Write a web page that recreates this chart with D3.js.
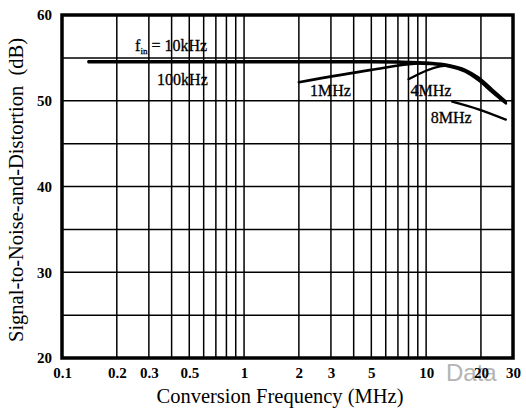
<!DOCTYPE html>
<html><head><meta charset="utf-8">
<script src="https://cdn.jsdelivr.net/npm/d3@7"></script>
<style>body{margin:0;background:#fff}svg{display:block}</style>
</head><body>
<svg id="c" width="526" height="408"></svg>
<script>
const xTickLabels = [0.1, 0.2, 0.3, 0.5, 1, 2, 3, 5, 10, 20, 30];
const xGridValues = [0.2,0.3,0.4,0.5,0.6,0.7,0.8,0.9,1,2,3,4,5,6,7,8,9,10,20];
const yTickLabels = [20, 30, 40, 50, 60];
const yGridValues = [25, 30, 35, 40, 45, 50, 55];

const fin10kHz  = [[0.14,54.6],[1,54.6],[5,54.6],[7,54.56],[10.4,54.42],[13,54.2],[16.4,53.6],[19.4,52.7],[23.1,51.3],[27.4,49.9]];
const fin100kHz = [[0.14,54.5],[1,54.5],[5,54.5],[7,54.46],[10.4,54.3],[13,54.05],[16.4,53.4],[19.4,52.4],[23.1,51.0],[27.4,49.7]];
const fin1MHz   = [[2,52.15],[5,53.6],[9,54.35],[10.4,54.38]];
const fin4MHz   = [[8,52.5],[11.9,54.0],[13.5,54.1]];
const fin8MHz   = [[13.9,49.9],[19.4,49.0],[27.4,47.8]];

const labels = [
  {t:"100kHz", f:0.333, v:51.8},
  {t:"1MHz", f:2.3, v:50.5},
  {t:"4MHz", f:8.2, v:50.5},
  {t:"8MHz", f:10.6, v:47.4}
];

const svg = d3.select("#c");
const x = d3.scaleLog().domain([0.1, 30]).range([62, 513]);
const y = d3.scaleLinear().domain([20, 60]).range([358, 15]);
const serif = "'Liberation Serif','Times New Roman',serif";

// grid
svg.append("g").selectAll("line").data(xGridValues).join("line")
  .attr("x1", d => x(d)).attr("x2", d => x(d))
  .attr("y1", y(60)).attr("y2", y(20))
  .attr("stroke", "#000").attr("stroke-width", 1.5);
svg.append("g").selectAll("line").data(yGridValues).join("line")
  .attr("x1", x(0.1)).attr("x2", x(30))
  .attr("y1", d => y(d)).attr("y2", d => y(d))
  .attr("stroke", "#000").attr("stroke-width", 1.5);

// watermark
svg.append("text").attr("x", 446).attr("y", 381).text("Data")
  .attr("font-family", "'Liberation Sans',Arial,sans-serif").attr("font-size", 24)
  .attr("fill", "#b4b4b4");

// frame
svg.append("rect").attr("x", x(0.1)).attr("y", y(60))
  .attr("width", x(30) - x(0.1)).attr("height", y(20) - y(60))
  .attr("fill", "none").attr("stroke", "#000").attr("stroke-width", 3.5);

// axes tick labels via d3 axes
const xAxis = d3.axisBottom(x).tickValues(xTickLabels).tickSize(0).tickPadding(9)
  .tickFormat(d => String(d));
const gx = svg.append("g").attr("transform", `translate(0,${y(20)})`).call(xAxis);
gx.select(".domain").remove();
gx.selectAll("text").attr("font-family", serif).attr("font-size", 15)
  .attr("font-weight", "bold").attr("fill", "#000");

const yAxis = d3.axisLeft(y).tickValues(yTickLabels).tickSize(0).tickPadding(10);
const gy = svg.append("g").attr("transform", `translate(${x(0.1)},0)`).call(yAxis);
gy.select(".domain").remove();
gy.selectAll("text").attr("font-family", serif).attr("font-size", 15)
  .attr("font-weight", "bold").attr("fill", "#000");

// series
const line = d3.line().x(d => x(d[0])).y(d => y(d[1])).curve(d3.curveMonotoneX);
[[fin10kHz,2.6],[fin100kHz,2.6],[fin1MHz,2.6],[fin4MHz,2.3],[fin8MHz,2.3]].forEach(([s,w]) => {
  svg.append("path").datum(s).attr("d", line)
    .attr("fill", "none").attr("stroke", "#000").attr("stroke-width", w)
    .attr("stroke-linecap", "round");
});

// labels
const fin = svg.append("text").attr("x", x(0.252)).attr("y", y(55.75))
  .attr("font-family", serif).attr("font-size", 16).attr("fill", "#000")
  .attr("stroke", "#000").attr("stroke-width", 0.3);
fin.append("tspan").text("f");
fin.append("tspan").text("in").attr("font-size", 9).attr("dy", 3);
fin.append("tspan").text(" = 10kHz").attr("dy", -3);

svg.append("g").selectAll("text").data(labels).join("text")
  .attr("x", d => x(d.f)).attr("y", d => y(d.v)).text(d => d.t)
  .attr("font-family", serif).attr("font-size", 16).attr("fill", "#000")
  .attr("stroke", "#000").attr("stroke-width", 0.3);

// axis titles
svg.append("text").attr("x", 280).attr("y", 403).attr("text-anchor", "middle")
  .text("Conversion Frequency (MHz)")
  .attr("font-family", serif).attr("font-size", 20.5).attr("fill", "#000");
svg.append("text").attr("transform", "translate(23,190) rotate(-90)")
  .attr("text-anchor", "middle").text("Signal-to-Noise-and-Distortion\u2002(dB)")
  .attr("font-family", serif).attr("font-size", 20.5).attr("fill", "#000");
</script>
</body></html>
